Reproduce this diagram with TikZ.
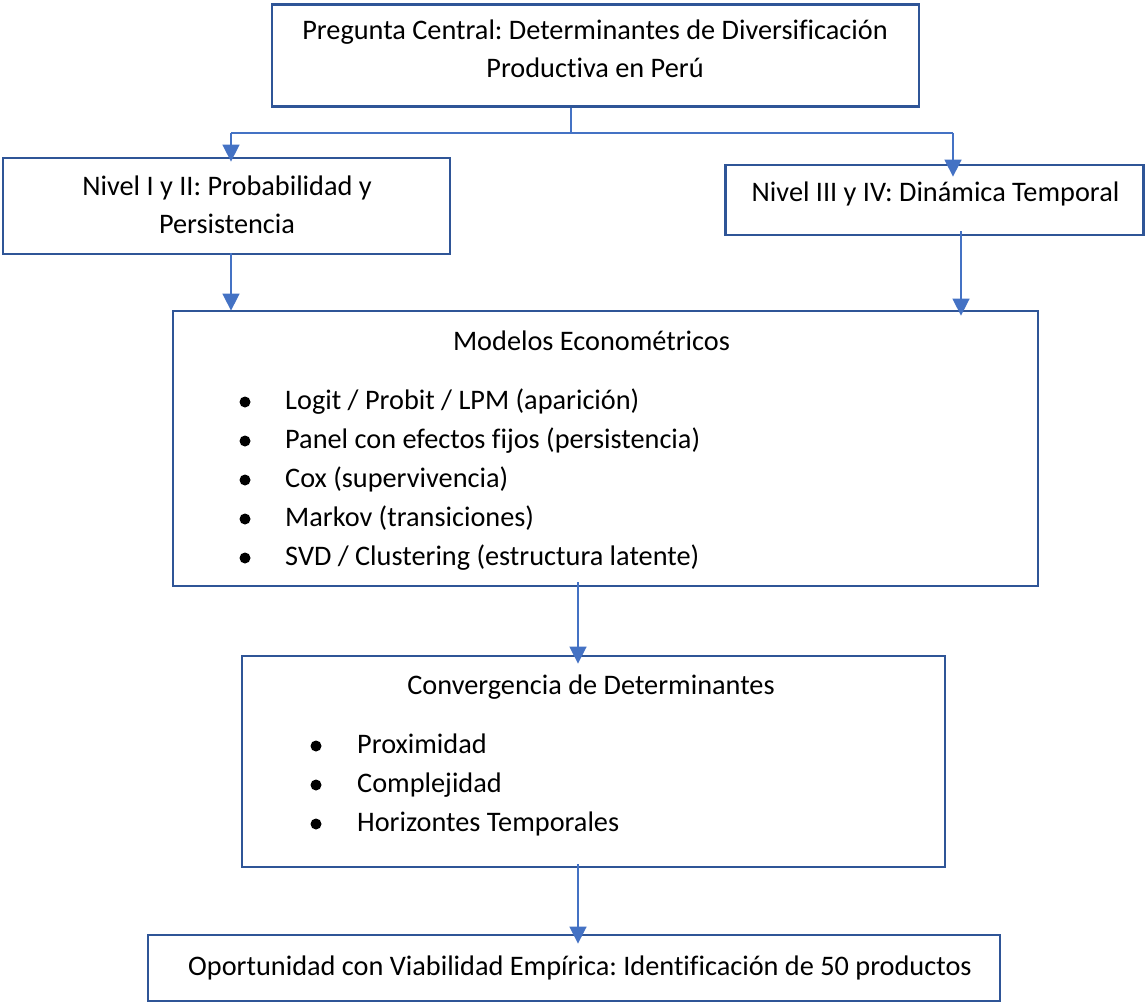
\documentclass[tikz,border=0pt]{standalone}
\usepackage{fontspec}
\setmainfont{Carlito}[Ligatures=NoCommon]
\usetikzlibrary{arrows.meta}
\definecolor{boxc}{HTML}{2F5597}
\definecolor{arrc}{HTML}{4472C4}
\frenchspacing
\begin{document}
\begin{tikzpicture}[x=1pt,y=-1pt,
  box/.style={draw=boxc,line width=2.8pt,rectangle,inner sep=0pt,fill=none},
  txt/.style={inner sep=0pt,font=\fontsize{28.3}{38}\selectfont},
  bul/.style={circle,fill=black,inner sep=0pt,minimum size=11pt},
  arr/.style={draw=arrc,line width=1.6pt,-{Triangle[width=17pt,length=17pt]}},
  lin/.style={draw=arrc,line width=1.6pt}]
\useasboundingbox (0,0) rectangle (1146,1003);
% boxes
\node[box,minimum width=647pt,minimum height=102pt] (top) at (595.5,55.5) {};
\node[box,minimum width=447pt,minimum height=96pt] (lbox) at (226.5,206) {};
\node[box,minimum width=418pt,minimum height=70pt] (rbox) at (934.5,200) {};
\node[box,minimum width=865pt,minimum height=275pt] (models) at (605.5,448.5) {};
\node[box,minimum width=703pt,minimum height=211pt] (conv) at (593.5,761.5) {};
\node[box,minimum width=852pt,minimum height=66pt] (final) at (574,968) {};
% texts
\node[txt,anchor=base] (t1) at (595,40) {Pregunta Central: Determinantes de Diversificación};
\node[txt,anchor=base] (t2) at (595,78) {Productiva en Perú};
\node[txt,anchor=base] (l1) at (227,196) {Nivel I y II: Probabilidad y};
\node[txt,anchor=base] (l2) at (227,234) {Persistencia};
\node[txt,anchor=base] (r1) at (935.5,202) {Nivel III y IV: Dinámica Temporal};
\node[txt,anchor=base] (m0) at (591.5,350) {Modelos Econométricos};
\node[bul] (b1) at (245,402) {};
\node[bul] (b2) at (245,441) {};
\node[bul] (b3) at (245,480) {};
\node[bul] (b4) at (245,519) {};
\node[bul] (b5) at (245,558) {};
\node[txt,anchor=base west] (m1) at (285,409) {Logit / Probit / LPM (aparición)};
\node[txt,anchor=base west] (m2) at (285,448) {Panel con efectos fijos (persistencia)};
\node[txt,anchor=base west] (m3) at (285,487) {Cox (supervivencia)};
\node[txt,anchor=base west] (m4) at (285,526) {Markov (transiciones)};
\node[txt,anchor=base west] (m5) at (285,565) {SVD / Clustering (estructura latente)};
\node[txt,anchor=base] (c0) at (591,694) {Convergencia de Determinantes};
\node[bul] (cb1) at (316,746) {};
\node[bul] (cb2) at (316,785) {};
\node[bul] (cb3) at (316,824) {};
\node[txt,anchor=base west] (c1) at (357,753) {Proximidad};
\node[txt,anchor=base west] (c2) at (357,792) {Complejidad};
\node[txt,anchor=base west] (c3) at (357,831) {Horizontes Temporales};
\node[txt,anchor=base] (f1) at (580,975) {Oportunidad con Viabilidad Empírica: Identificación de 50 productos};
% connectors
\coordinate (js) at ([xshift=-24.5pt]top.south);
\coordinate (jm) at (571,133);
\coordinate (jl) at (231,133);
\coordinate (jr) at (953,133);
\draw[lin] (js) -- (jm);
\draw[lin] (jl) -- (jr);
\draw[arr] (jl) -- ([yshift=-5pt]jl |- lbox.north);
\draw[arr] (jr) -- ([yshift=-13pt]jr |- rbox.north);
\draw[arr] (231,253) -- ([yshift=-1pt]231,0 |- models.north);
\draw[arr] ([yshift=5pt]961,0 |- rbox.south) -- ([yshift=-6pt]961,0 |- models.north);
\draw[arr] ([yshift=5pt]578,0 |- models.south) -- ([yshift=-9pt]578,0 |- conv.north);
\draw[arr] ([yshift=4pt]578,0 |- conv.south) -- ([yshift=-10pt]578,0 |- final.north);
\end{tikzpicture}
\end{document}
